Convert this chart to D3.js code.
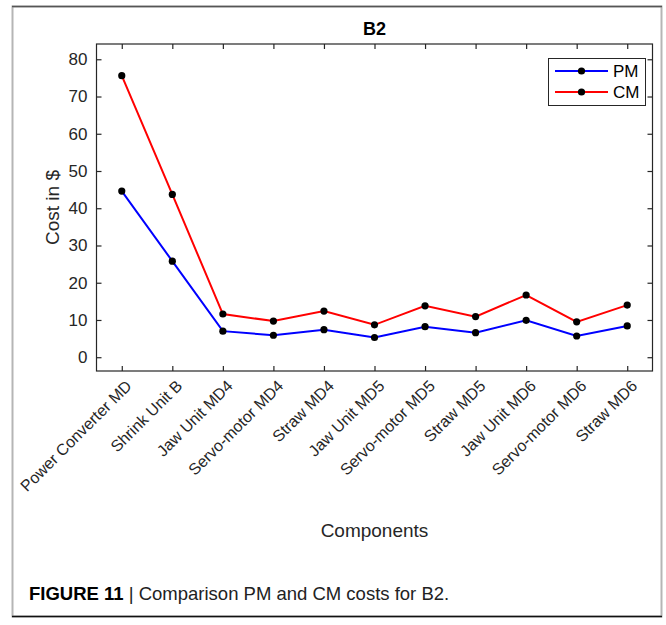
<!DOCTYPE html>
<html>
<head>
<meta charset="utf-8">
<script src="https://cdn.jsdelivr.net/npm/d3@7"></script>
<style>
  body { margin: 0; background: #fff; }
  svg text { font-family: "Liberation Sans", Arial, Helvetica, sans-serif; }
</style>
</head>
<body>
<div id="chart"></div>
<script>
// data
var components = ["Power Converter MD", "Shrink Unit B", "Jaw Unit MD4", "Servo-motor MD4", "Straw MD4",
    "Jaw Unit MD5", "Servo-motor MD5", "Straw MD5", "Jaw Unit MD6", "Servo-motor MD6", "Straw MD6"];
var pmCost = [44.6, 25.8, 7.0, 5.9, 7.4, 5.3, 8.2, 6.6, 9.9, 5.7, 8.4];
var cmCost = [75.6, 43.7, 11.6, 9.7, 12.4, 8.7, 13.8, 10.9, 16.7, 9.5, 14.0];
var yTicks = [0, 10, 20, 30, 40, 50, 60, 70, 80];
var seriesNames = ["PM", "CM"];
var seriesColors = ["#0000ff", "#ff0000"];

var W = 666, H = 625;
var axisCol = "#262626";

var svg = d3.select("#chart")
    .append("svg")
    .attr("width", W)
    .attr("height", H);

// figure frame
svg.append("rect")
    .attr("x", 12.5).attr("y", 6.5)
    .attr("width", 649).attr("height", 610)
    .attr("fill", "none")
    .attr("stroke", "#b5b5b5")
    .attr("stroke-width", 2);
svg.append("line").attr("x1", 12).attr("x2", 662).attr("y1", 6.5).attr("y2", 6.5)
    .attr("stroke", "#555").attr("stroke-width", 1.5);
svg.append("line").attr("x1", 12).attr("x2", 662).attr("y1", 616.5).attr("y2", 616.5)
    .attr("stroke", "#111").attr("stroke-width", 1.5);

// plot box
var pLeft = 96.5, pRight = 652.5, pTop = 44, pBottom = 371;

var x = d3.scalePoint()
    .domain(components)
    .range([pLeft, pRight])
    .padding(0.5);

var y = d3.scaleLinear()
    .domain([-3.7, 84.1])
    .range([pBottom, pTop]);

var g = svg.append("g");

// axes, ticks inside like matlab
g.append("g")
    .attr("transform", "translate(0," + pBottom + ")")
    .call(d3.axisBottom(x).tickSizeInner(-5).tickSizeOuter(0).tickFormat(""));
g.append("g")
    .attr("transform", "translate(0," + pTop + ")")
    .call(d3.axisTop(x).tickSizeInner(-5).tickSizeOuter(0).tickFormat(""));
var yAxis = g.append("g")
    .attr("transform", "translate(" + pLeft + ",0)")
    .call(d3.axisLeft(y).tickValues(yTicks).tickSizeInner(-5).tickSizeOuter(0).tickPadding(9));
g.append("g")
    .attr("transform", "translate(" + pRight + ",0)")
    .call(d3.axisRight(y).tickValues(yTicks).tickSizeInner(-5).tickSizeOuter(0).tickFormat(""));

g.selectAll(".domain").remove();
g.selectAll(".tick line").attr("stroke", axisCol).attr("stroke-width", 1.2);

g.append("rect")
    .attr("x", pLeft).attr("y", pTop)
    .attr("width", pRight - pLeft).attr("height", pBottom - pTop)
    .attr("fill", "none")
    .attr("stroke", axisCol)
    .attr("stroke-width", 1.2);

yAxis.selectAll("text")
    .attr("fill", axisCol)
    .style("font-size", "17px");

// rotated category labels
g.selectAll(".xlab")
    .data(components)
    .enter()
    .append("text")
    .attr("class", "xlab")
    .attr("transform", function (d) { return "translate(" + (x(d) + 7) + "," + (pBottom + 12) + ") rotate(-45)"; })
    .attr("text-anchor", "end")
    .attr("dy", "0.35em")
    .attr("fill", axisCol)
    .style("font-size", "16px")
    .text(function (d) { return d; });

// lines + markers
var line = d3.line()
    .x(function (d, i) { return x(components[i]); })
    .y(function (d) { return y(d); });

[pmCost, cmCost].forEach(function (vals, k) {
    g.append("path")
        .datum(vals)
        .attr("fill", "none")
        .attr("stroke", seriesColors[k])
        .attr("stroke-width", 2)
        .attr("d", line);
});
[pmCost, cmCost].forEach(function (vals) {
    g.selectAll(null)
        .data(vals)
        .enter()
        .append("circle")
        .attr("cx", function (d, i) { return x(components[i]); })
        .attr("cy", function (d) { return y(d); })
        .attr("r", 3.6)
        .attr("fill", "#000");
});

// title and axis labels
svg.append("text")
    .attr("x", (pLeft + pRight) / 2).attr("y", 35)
    .attr("text-anchor", "middle")
    .style("font-size", "18px")
    .style("font-weight", "bold")
    .attr("fill", "#000")
    .text("B2");

svg.append("text")
    .attr("x", (pLeft + pRight) / 2).attr("y", 537)
    .attr("text-anchor", "middle")
    .style("font-size", "19px")
    .attr("fill", axisCol)
    .text("Components");

svg.append("text")
    .attr("transform", "translate(59," + ((pTop + pBottom) / 2) + ") rotate(-90)")
    .attr("text-anchor", "middle")
    .style("font-size", "19px")
    .attr("fill", axisCol)
    .text("Cost in $");

// legend
var leg = svg.append("g").attr("transform", "translate(548,58)");
leg.append("rect")
    .attr("x", 0.5).attr("y", 0.5)
    .attr("width", 97).attr("height", 47)
    .attr("fill", "#fff")
    .attr("stroke", axisCol)
    .attr("stroke-width", 1);
seriesNames.forEach(function (name, k) {
    var ly = 13 + k * 21;
    leg.append("line")
        .attr("x1", 7).attr("x2", 60)
        .attr("y1", ly).attr("y2", ly)
        .attr("stroke", seriesColors[k])
        .attr("stroke-width", 2);
    leg.append("circle")
        .attr("cx", 33.5).attr("cy", ly).attr("r", 3.6).attr("fill", "#000");
    leg.append("text")
        .attr("x", 65).attr("y", ly)
        .attr("dy", "0.35em")
        .style("font-size", "17px")
        .attr("fill", "#000")
        .text(name);
});

// caption
var cap = svg.append("text")
    .attr("x", 29).attr("y", 600)
    .style("font-size", "18.5px")
    .attr("fill", "#222");
cap.append("tspan").style("font-weight", "bold").attr("fill", "#000").text("FIGURE 11");
cap.append("tspan").text(" | Comparison PM and CM costs for B2.");
</script>
</body>
</html>
